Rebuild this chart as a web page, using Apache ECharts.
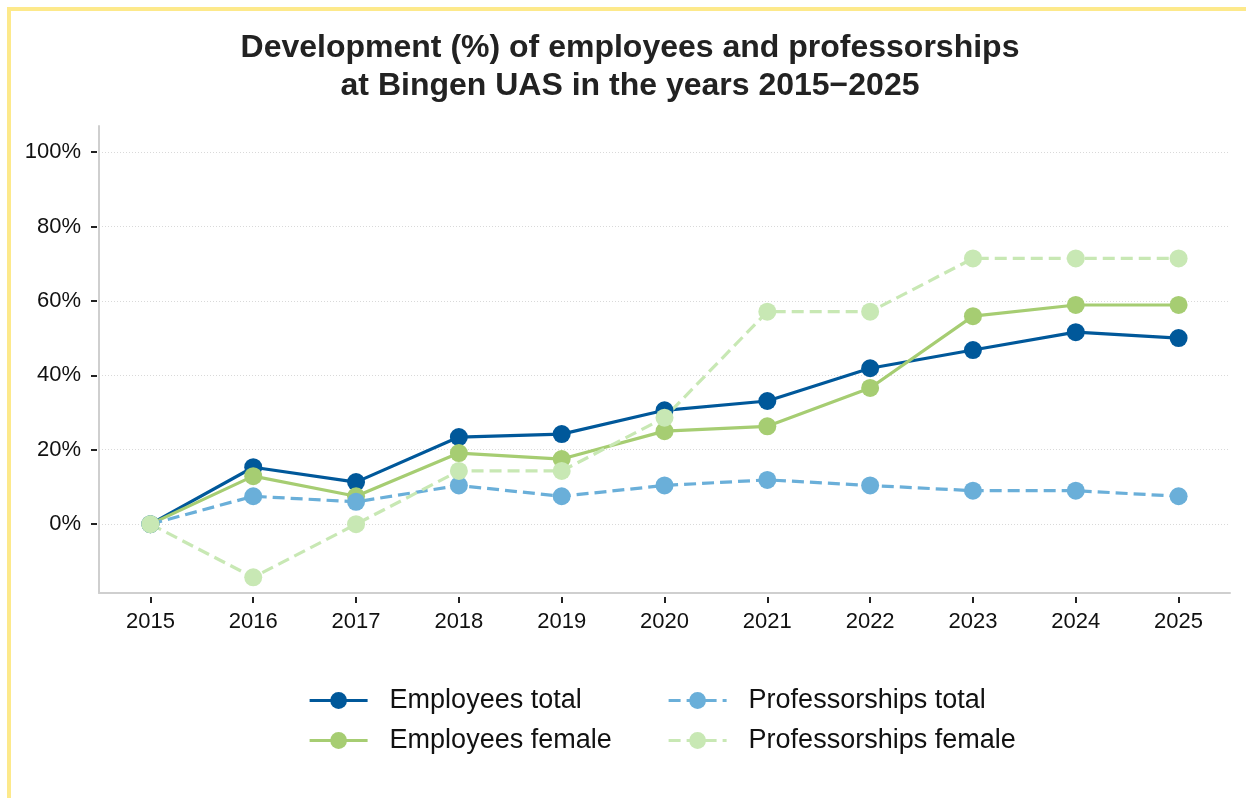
<!DOCTYPE html>
<html>
<head>
<meta charset="utf-8">
<script src="https://cdn.jsdelivr.net/npm/echarts@6/dist/echarts.min.js"></script>
<style>
  html, body { margin: 0; padding: 0; background: #fff; }
  #wrap { position: relative; width: 1246px; height: 798px; overflow: hidden; }
  #chart { position: absolute; left: 0; top: 0; width: 1246px; height: 798px; }
  #frame {
    position: absolute; left: 7px; top: 7px; width: 1260px; height: 787px;
    border-left: 4px solid #fde98b; border-top: 4px solid #fde98b;
    border-bottom: 2px solid #fbeda0; pointer-events: none;
  }
</style>
</head>
<body>
<div id="wrap">
  <div id="chart"></div>
  <div id="frame"></div>
</div>
<script>
// Years and development relative to 2015, in percent
const years = ['2015', '2016', '2017', '2018', '2019', '2020', '2021', '2022', '2023', '2024', '2025'];
const employeesTotal = [0, 15.3, 11.3, 23.4, 24.2, 30.6, 33.1, 41.9, 46.8, 51.6, 50.0];
const employeesFemale = [0, 12.9, 7.5, 19.1, 17.5, 25.0, 26.3, 36.6, 55.9, 58.9, 58.9];
const professorshipsTotal = [0, 7.5, 6.0, 10.4, 7.5, 10.4, 11.9, 10.4, 9.0, 9.0, 7.5];
const professorshipsFemale = [0, -14.3, 0, 14.3, 14.3, 28.6, 57.1, 57.1, 71.4, 71.4, 71.4];
const yTicks = [0, 20, 40, 60, 80, 100];

const FONT = '"Liberation Sans", Arial, Helvetica, sans-serif';
const Y_MIN = -18.5, Y_MAX = 107;

const chart = echarts.init(document.getElementById('chart'), null, { renderer: 'canvas' });

function lineSeries(name, data, color, dashed) {
  return {
    name: name,
    type: 'line',
    data: data,
    xAxisIndex: 0,
    yAxisIndex: 0,
    symbol: 'circle',
    symbolSize: 18,
    showSymbol: true,
    itemStyle: { color: color },
    lineStyle: { color: color, width: 3.2, type: dashed ? [12, 6] : 'solid' },
    emphasis: { disabled: true },
    animation: false
  };
}

const legendText = {
  fontFamily: FONT, fontSize: 27, color: '#111', lineHeight: 27,
  padding: [0, 0, 0, 17]
};

function legendColumn(left, names) {
  return {
    orient: 'vertical', left: left, top: 682, itemGap: 13,
    itemWidth: 58, itemHeight: 21,
    data: names,
    lineStyle: { width: 3.2 },
    textStyle: legendText, selectedMode: false
  };
}

chart.setOption({
  animation: false,
  textStyle: { fontFamily: FONT },
  title: {
    text: 'Development (%) of employees and professorships\nat Bingen UAS in the years 2015\u22122025',
    left: 630,
    textAlign: 'center',
    top: 29,
    padding: 0,
    textStyle: {
      fontFamily: FONT, fontSize: 32, fontWeight: 'bold', color: '#222', lineHeight: 38, align: 'center'
    }
  },
  legend: [
    legendColumn(303, ['Employees total', 'Employees female']),
    legendColumn(662, ['Professorships total', 'Professorships female'])
  ],
  grid: { left: 99, right: 16, top: 126, bottom: 205, containLabel: false },
  xAxis: [
    {
      type: 'category', data: years, boundaryGap: true,
      axisLine: { show: true, onZero: false, lineStyle: { color: '#cfcfcf', width: 2 } },
      axisTick: { show: false }, axisLabel: { show: false }, splitLine: { show: false }
    },
    {
      type: 'category', data: years, boundaryGap: true, position: 'bottom', offset: 4,
      axisLine: { show: false, onZero: false },
      axisTick: { show: true, alignWithLabel: true, length: 6, lineStyle: { color: '#222', width: 2 } },
      axisLabel: { show: true, margin: 14, fontFamily: FONT, fontSize: 22, color: '#111' },
      splitLine: { show: false }
    }
  ],
  yAxis: [
    {
      type: 'value', min: Y_MIN, max: Y_MAX,
      axisLine: { show: true, onZero: false, lineStyle: { color: '#cfcfcf', width: 2 } },
      axisTick: { show: false, customValues: yTicks },
      axisLabel: { show: false, customValues: yTicks },
      splitLine: { show: true, lineStyle: { color: '#d9d9d9', width: 1, type: [1, 2] } }
    },
    {
      type: 'value', min: Y_MIN, max: Y_MAX, position: 'left', offset: 2,
      axisLine: { show: false, onZero: false },
      axisTick: { show: true, length: 6, customValues: yTicks, lineStyle: { color: '#222', width: 2 } },
      axisLabel: {
        show: true, customValues: yTicks, margin: 16,
        fontFamily: FONT, fontSize: 22, color: '#111',
        formatter: v => v + '%'
      },
      splitLine: { show: false }
    }
  ],
  series: [
    lineSeries('Employees total', employeesTotal, '#00589a', false),
    lineSeries('Employees female', employeesFemale, '#a6cd72', false),
    lineSeries('Professorships total', professorshipsTotal, '#6aafd9', true),
    lineSeries('Professorships female', professorshipsFemale, '#c8e8b4', true)
  ]
});
</script>
</body>
</html>
